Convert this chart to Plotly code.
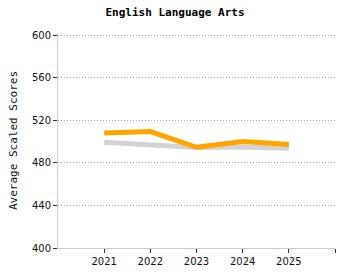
import plotly.graph_objects as go

years = ["2021", "2022", "2023", "2024", "2025"]
school = [508, 509.4, 494.6, 500, 497.2]
state = [499.3, 496.9, 494.4, 495, 493.8]
y_ticks = [400, 440, 480, 520, 560, 600]

xpos = list(range(len(years)))

fig = go.Figure()
fig.add_trace(go.Scatter(x=xpos, y=state, mode="lines",
                         line=dict(color="#d3d3d3", width=5), hoverinfo="skip"))
fig.add_trace(go.Scatter(x=xpos, y=school, mode="lines",
                         line=dict(color="#ffa500", width=5), hoverinfo="skip"))

fig.update_layout(
    width=350, height=280,
    margin=dict(l=58, r=15, t=33, b=32),
    paper_bgcolor="white", plot_bgcolor="white",
    showlegend=False,
    title=dict(text="<b>English Language Arts</b>", x=0.5, xanchor="center",
               y=0.955, yanchor="middle",
               font=dict(family="DejaVu Sans Mono", size=11, color="#000")),
    font=dict(family="DejaVu Sans", size=10, color="#222"),
)
fig.update_xaxes(range=[-1, 5], tickvals=xpos + [5], ticktext=years + [""],
                 showgrid=False, showline=True, linecolor="#cccccc", linewidth=1,
                 ticks="outside", ticklen=4, tickcolor="#333", zeroline=False,
                 tickfont=dict(family="DejaVu Sans", size=10, color="#111"))
fig.update_yaxes(range=[400, 602], tickvals=y_ticks,
                 showgrid=True, gridcolor="#aaaaaa", griddash="1px,2px", gridwidth=1,
                 showline=True, linecolor="#cccccc", linewidth=1,
                 ticks="outside", ticklen=4, tickcolor="#333", zeroline=False,
                 tickfont=dict(family="DejaVu Sans", size=10, color="#111"),
                 title=dict(text="Average Scaled Scores", standoff=12,
                            font=dict(family="DejaVu Sans Mono", size=11, color="#111")))

fig.write_html("out.html")
